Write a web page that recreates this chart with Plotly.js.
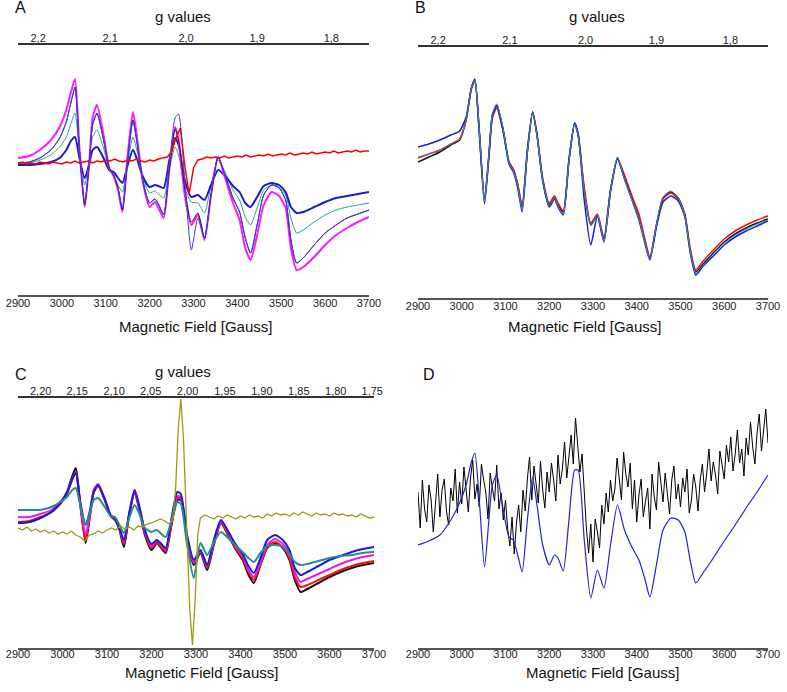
<!DOCTYPE html>
<html>
<head>
<meta charset="utf-8">
<script src="https://cdn.plot.ly/plotly-3.0.1.min.js"></script>
<style>html,body{margin:0;padding:0;background:#fff;}#chart{width:787px;height:692px;}</style>
</head>
<body>
<div id="chart"></div>
<script>
// ---- shared field grid (Gauss) ----
const X = [2900,2925,2950,2975,2995,3010,3022,3030,3040,3052,3062,3070,3080,3095,3108,3118,3128,3138,3150,3162,3172,3185,3200,3212,3220,3232,3245,3258,3266,3280,3295,3310,3325,3340,3356,3372,3390,3405,3418,3430,3445,3460,3478,3495,3510,3522,3535,3550,3575,3600,3625,3650,3675,3700];

// ---- tick labels ----
const fieldTicks = [2900,3000,3100,3200,3300,3400,3500,3600,3700];
const fieldRange = [2900,3700];
const gPosAB = [2946,3110,3283,3445,3614];
const gLabAB = ["2,2","2,1","2,0","1,9","1,8"];
const gPosC = [2951,3033,3116,3198,3281,3365,3448,3531,3614,3696];
const gLabC = ["2,20","2,15","2,10","2,05","2,00","1,95","1,90","1,85","1,80","1,75"];

// ---- Panel A (arbitrary intensity units) ----
const A_black   = [137,138,142,150,162,178,200,213,150,95,135,175,187,160,132,125,112,90,140,180,155,118,97,101,96,85,130,171,160,112,78,87,62,105,143,125,102,88,62,47,75,105,115,112,100,60,37,42,55,67,75,82,86,90];
const A_magenta = [142,144,150,160,173,190,210,221,152,93,135,182,195,165,132,124,110,88,145,188,160,117,93,98,92,82,132,173,160,105,75,85,60,105,143,122,97,80,52,40,65,95,108,104,92,52,30,33,43,55,65,72,78,83];
const A_teal    = [136,137,140,145,153,163,178,187,150,115,140,163,170,152,130,124,115,108,137,163,148,122,107,109,106,102,132,153,145,112,98,97,87,115,140,128,110,100,83,75,92,110,115,113,105,82,67,70,78,85,90,93,95,97];
const A_blueThick = [135,135,136,138,142,150,160,163,142,122,135,150,153,142,130,128,122,117,135,150,140,123,113,115,114,112,140,162,155,120,103,105,100,115,130,124,114,108,97,93,103,114,117,115,108,93,87,88,93,98,102,104,106,108];
const A_blueThin  = [137,138,142,150,162,178,200,212,150,97,135,175,186,160,132,125,112,92,140,179,155,118,97,101,96,86,135,182,186,120,50,82,62,105,143,125,102,88,62,47,75,105,115,112,100,60,37,42,55,67,75,82,86,90];
const A_red_x = [2900,2910,2920,2930,2940,2950,2960,2970,2980,2990,3000,3010,3020,3030,3040,3050,3060,3070,3080,3090,3100,3110,3120,3130,3140,3150,3160,3170,3180,3190,3200,3210,3220,3230,3240,3250,3260,3270,3280,3290,3300,3310,3320,3330,3340,3350,3360,3370,3380,3390,3400,3410,3420,3430,3440,3450,3460,3470,3480,3490,3500,3510,3520,3530,3540,3550,3560,3570,3580,3590,3600,3610,3620,3630,3640,3650,3660,3670,3680,3690,3700];
const A_red = [137,138,136,137,136,138,137,136,138,137,
               136,138,137,139,137,138,139,137,139,138,
               140,139,141,139,138,140,139,141,139,138,
               140,139,141,142,143,148,162,172,135,106,
               132,140,141,143,142,143,142,144,142,143,
               144,143,145,143,144,145,144,146,144,145,
               146,145,147,145,146,147,146,148,146,147,
               148,147,149,147,148,149,148,150,148,149,
               149];

// ---- Panel B ----
const B_black = [138,143,148,155,160,180,212,220,170,100,145,185,195,170,138,130,115,93,150,188,165,120,95,103,95,88,140,177,165,110,75,85,60,110,142,122,100,82,60,42,75,102,108,102,85,50,28,35,47,58,66,72,77,81];
const B_red   = [142,146,150,156,161,180,211,219,168,101,143,182,192,168,138,131,116,94,149,187,166,122,97,104,97,89,140,176,166,113,77,86,62,110,141,125,103,86,62,43,75,101,107,101,86,52,30,38,50,61,69,75,80,84];
const B_teal  = [143,146,150,156,161,181,212,220,170,98,145,186,196,170,137,129,114,90,148,187,164,120,94,102,94,86,139,176,164,109,75,85,59,109,143,121,99,81,59,41,75,103,109,102,84,49,27,34,46,57,65,71,76,80];
const B_blue  = [153,156,160,165,169,183,212,221,168,96,143,184,194,168,136,128,112,88,148,188,165,119,93,101,93,85,139,177,166,100,55,84,58,108,141,121,99,80,58,40,73,98,104,99,83,48,25,33,44,55,63,69,74,79];

// ---- Panel C ----
const C_black   = [127,128,132,138,147,158,174,182,145,107,135,158,165,150,134,130,120,103,135,158,142,115,100,107,103,97,125,150,150,110,85,97,80,105,127,115,100,90,75,67,85,102,107,102,90,70,58,61,67,73,78,82,85,87];
const C_red     = [128,129,133,138,146,156,171,178,145,110,136,157,164,150,134,130,121,106,136,157,142,117,102,108,104,99,126,152,152,111,87,98,82,106,127,116,101,92,78,70,86,103,108,103,92,73,63,65,70,75,80,84,87,89];
const C_magenta = [133,133,136,140,148,157,171,177,145,115,137,160,166,151,135,131,122,108,137,160,144,119,104,110,106,101,128,154,153,113,88,99,84,108,129,118,103,94,80,73,88,105,111,106,96,78,68,71,76,81,86,90,93,95];
const C_blue    = [127,128,132,138,147,157,171,177,148,125,140,158,165,151,135,131,122,110,137,160,145,120,106,110,107,102,132,158,156,115,90,100,85,110,130,119,105,96,84,77,92,110,115,110,100,82,75,78,84,90,94,98,101,103];
const C_teal    = [140,140,140,143,148,153,160,162,145,125,138,150,152,143,134,133,125,117,132,145,137,122,118,120,117,113,130,148,146,105,72,107,95,108,118,112,104,98,92,88,97,104,105,103,96,88,85,86,89,92,94,95,97,98];
const C_olive_x = [2900,2910,2920,2930,2940,2950,2960,2970,2980,2990,3000,3010,3020,3030,3040,3050,3060,3070,3080,3090,3100,3110,3120,3130,3140,3150,3160,3170,3180,3190,3200,3210,3220,3230,3240,3248,3254,3260,3266,3272,3279,3286,3292,3298,3304,3310,3320,3330,3340,3350,3360,3370,3380,3390,3400,3410,3420,3430,3440,3450,3460,3470,3480,3490,3500,3510,3520,3530,3540,3550,3560,3570,3580,3590,3600,3610,3620,3630,3640,3650,3660,3670,3680,3690,3700];
const C_olive = [122,120,123,119,121,118,120,117,119,116,
                 118,116,119,115,113,109,115,116,119,117,
                 120,122,120,124,121,123,120,124,123,126,
                 127,129,131,129,126,
                 132,160,220,251,210,120,40,5,50,115,132,
                 135,133,131,134,132,135,133,131,
                 134,132,135,133,134,132,136,134,137,135,
                 136,134,137,135,138,136,134,137,135,136,
                 134,137,135,136,134,135,133,136,134,132,133];

// ---- Panel D ----
const D_blue = [105,109,115,130,147,165,188,197,150,83,130,165,175,140,113,110,95,78,130,173,145,105,85,95,92,79,130,180,180,110,52,80,62,105,145,120,102,90,72,53,85,120,132,130,118,90,67,76,92,109,125,142,158,175];
const D_black_x = [2900,2905,2910,2915,2920,2925,2930,2935,2940,2945,2950,2955,2960,2965,2970,2975,2980,2985,2990,2995,
3000,3005,3010,3015,3020,3025,3030,3035,3040,3045,3050,3055,3060,3065,3070,3075,3080,3085,3090,3095,
3100,3105,3110,3115,3120,3125,3130,3135,3140,3145,3150,3155,3160,3165,3170,3175,3180,3185,3190,3195,
3200,3205,3210,3215,3220,3225,3230,3235,3240,3245,3250,3255,3260,3265,3270,3275,3280,3285,3290,3295,
3300,3305,3310,3315,3320,3325,3330,3335,3340,3345,3350,3355,3360,3365,3370,3375,3380,3385,3390,3395,
3400,3405,3410,3415,3420,3425,3430,3435,3440,3445,3450,3455,3460,3465,3470,3475,3480,3485,3490,3495,
3500,3505,3510,3515,3520,3525,3530,3535,3540,3545,3550,3555,3560,3565,3570,3575,3580,3585,3590,3595,
3600,3605,3610,3615,3620,3625,3630,3635,3640,3645,3650,3655,3660,3665,3670,3675,3680,3685,3690,3695,3700];
const D_black = [158,122,170,141,128,165,150,118,147,176,133,160,171,139,125,162,149,181,137,168,
146,183,160,138,172,190,151,166,143,186,170,158,131,177,162,149,185,141,157,130,
150,121,104,133,96,127,145,118,160,139,171,193,150,184,166,147,189,160,142,178,
158,187,170,149,195,166,181,208,172,196,215,186,232,205,178,196,152,121,97,126,
88,131,118,102,145,126,157,138,170,149,161,192,171,150,198,176,163,187,141,170,
128,155,171,133,149,162,121,176,153,140,188,165,148,177,159,136,170,184,151,166,
143,172,158,181,137,150,176,163,139,170,186,158,177,201,169,188,175,156,199,184,
171,205,188,213,179,196,220,187,201,174,212,195,228,203,186,217,236,199,224,241,207];

// ---- build ----
function tr(x, y, xa, ya, color, width, smooth) {
  return {x: x, y: y, xaxis: xa, yaxis: ya, type: 'scatter', mode: 'lines',
    line: smooth ? {color: color, width: width, shape: 'spline', smoothing: 0.6} : {color: color, width: width},
    hoverinfo: 'skip', showlegend: false};
}
// empty helper traces so the overlaying g-value axes get drawn
function holder(xa, ya) {
  return {x: fieldRange, y: [null, null], xaxis: xa, yaxis: ya, type: 'scatter', mode: 'lines',
    hoverinfo: 'skip', showlegend: false};
}
const traces = [
  holder('x2', 'y'), holder('x4', 'y2'), holder('x6', 'y3'),
  tr(X, A_teal, 'x', 'y', '#2e9e9e', 1, true),
  tr(X, A_blueThick, 'x', 'y', '#1c1cc8', 2, true),
  tr(X, A_magenta, 'x', 'y', '#ff1aff', 2, true),
  tr(X, A_black, 'x', 'y', '#222222', 1, true),
  tr(X, A_blueThin, 'x', 'y', '#3a3aff', 1, true),
  tr(A_red_x, A_red, 'x', 'y', '#ff0000', 1.5, false),

  tr(X, B_black, 'x3', 'y2', '#111111', 1.5, true),
  tr(X, B_red, 'x3', 'y2', '#ee1111', 1.5, true),
  tr(X, B_blue, 'x3', 'y2', '#1a1ae0', 1.5, true),
  tr(X, B_teal, 'x3', 'y2', '#2a9a9a', 1, true),

  tr(X, C_black, 'x5', 'y3', '#111111', 2, true),
  tr(X, C_red, 'x5', 'y3', '#ff1010', 2, true),
  tr(X, C_magenta, 'x5', 'y3', '#e81ae8', 2, true),
  tr(X, C_blue, 'x5', 'y3', '#1a1ad8', 2, true),
  tr(X, C_teal, 'x5', 'y3', '#228f8f', 2, true),
  tr(C_olive_x, C_olive, 'x5', 'y3', '#9c9a14', 1.3, false),

  tr(D_black_x, D_black, 'x7', 'y4', '#000000', 1, false),
  tr(X, D_blue, 'x7', 'y4', '#2424cc', 1.2, true)
];

const W = 787, H = 692;
const px = v => v / W, py = v => 1 - v / H;
const tickFont = {family: 'Liberation Sans, Arial, sans-serif', size: 11, color: '#222'};
function bottomAxis(d0, d1, anchor, so) {
  return {domain: [px(d0), px(d1)], anchor: anchor, range: fieldRange, tickmode: 'array', tickvals: fieldTicks,
    ticktext: fieldTicks.map(String), ticks: '', showline: true, linecolor: '#555', linewidth: 2,
    showgrid: false, zeroline: false, tickfont: tickFont, ticklabelstandoff: so, fixedrange: true};
}
function topAxis(over, anchor, pos, lab) {
  return {overlaying: over, side: 'top', anchor: anchor, range: fieldRange, tickmode: 'array', tickvals: pos,
    ticktext: lab, ticks: '', showline: true, linecolor: '#333', linewidth: 2, showgrid: false, zeroline: false,
    tickfont: tickFont, ticklabelstandoff: -3, fixedrange: true};
}
function yAx(t, b, anchor, r) {
  return {domain: [py(b), py(t)], anchor: anchor, range: r, visible: false, fixedrange: true};
}
const annFont = s => ({family: 'Liberation Sans, Arial, sans-serif', size: s, color: '#111'});
function ann(text, x, y, s) {
  return {text: text, x: px(x), y: py(y), xref: 'paper', yref: 'paper', xanchor: 'center', yanchor: 'middle',
    showarrow: false, font: annFont(s)};
}
const layout = {
  width: W, height: H, margin: {l: 0, r: 0, t: 0, b: 0}, paper_bgcolor: '#fff', plot_bgcolor: '#fff',
  showlegend: false,
  xaxis: bottomAxis(18, 369, 'y', -3),
  xaxis2: topAxis('x', 'y', gPosAB, gLabAB),
  yaxis: yAx(45, 295, 'x', [5, 255]),
  xaxis3: bottomAxis(418, 768, 'y2', -3),
  xaxis4: topAxis('x3', 'y2', gPosAB, gLabAB),
  yaxis2: yAx(47, 298, 'x3', [2, 253]),
  xaxis5: bottomAxis(18, 374, 'y3', -5),
  xaxis6: topAxis('x5', 'y3', gPosC, gLabC),
  yaxis3: yAx(398, 648, 'x5', [2, 252]),
  xaxis7: bottomAxis(418, 768, 'y4', -5),
  yaxis4: yAx(398, 648, 'x7', [2, 252]),
  annotations: [
    ann('A', 20, 8, 16), ann('g values', 183, 17, 15), ann('Magnetic Field [Gauss]', 195, 326, 15),
    ann('B', 421, 8, 16), ann('g values', 597, 17, 15), ann('Magnetic Field [Gauss]', 584, 326, 15),
    ann('C', 21, 374, 16), ann('g values', 183, 371, 15), ann('Magnetic Field [Gauss]', 202, 672, 15),
    ann('D', 429, 374, 16), ann('Magnetic Field [Gauss]', 602, 672, 15)
  ]
};
Plotly.newPlot('chart', traces, layout, {displayModeBar: false, staticPlot: true});
</script>
</body>
</html>
